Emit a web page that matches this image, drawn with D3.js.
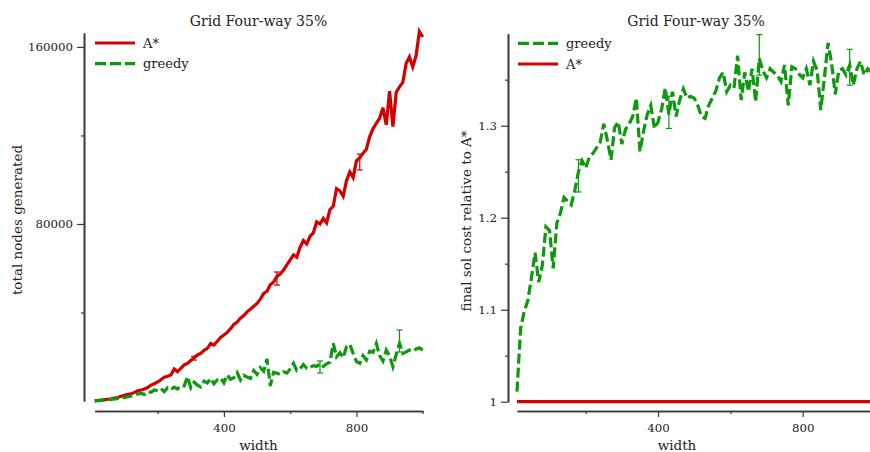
<!DOCTYPE html>
<html><head><meta charset="utf-8">
<script src="https://cdn.jsdelivr.net/npm/d3@7"></script>
<style>
html,body{margin:0;padding:0;background:#fff;}
text{font-family:"DejaVu Serif",serif;fill:#222;}
</style></head>
<body><svg id="c" width="870" height="452"></svg>
<script>
const widths = d3.range(10, 1001, 10);
const astarNodes = [200,300,450,600,800,1000,1300,1600,2100,2600,
3000,3300,3900,4600,5000,5400,6100,7200,7800,8600,
9600,10800,11200,11800,14500,13200,14800,16300,17000,18300,
19600,20800,21500,22900,23800,26000,25300,27000,28700,29800,
31000,32700,34600,35700,37400,38600,40300,41500,42800,44100,
46000,48600,49500,52500,53800,56300,57400,59200,61500,63800,
66000,65000,69500,72500,71000,74500,76000,81000,80000,82500,
80500,86500,88000,96000,95000,92500,99500,103500,101000,108500,
110000,112000,113800,119500,123000,125500,127800,132500,124800,140000,
124000,139500,142000,144000,152500,155500,151000,156000,167000,164500];
const greedyNodes = [100,200,300,400,550,700,900,1100,1300,1600,
1900,2200,2400,3200,3400,3000,4300,3900,5000,4600,
5600,4200,6000,5200,6300,5400,7000,6800,11000,6000,
8500,7200,6400,9000,8200,10200,7800,9600,10400,8200,
11800,9800,10500,12800,9500,11600,10800,10200,13800,12000,
15000,13500,19000,6800,13000,12500,12000,13200,12600,14500,
17000,13800,14600,16500,14800,15200,16000,15600,17000,15600,
16800,17500,26000,20000,21800,19500,24500,25600,21500,17800,
17000,20500,18500,22500,22000,26000,20500,18000,23000,20400,
15500,21000,26000,21500,22200,23000,22500,23500,24000,23000];
const greedyCost = [1.011,1.080,1.098,1.110,1.135,1.162,1.130,1.148,1.190,1.186,
1.145,1.194,1.205,1.222,1.218,1.214,1.230,1.250,1.262,1.254,
1.266,1.270,1.276,1.282,1.302,1.284,1.263,1.298,1.304,1.280,
1.296,1.302,1.310,1.330,1.272,1.294,1.312,1.322,1.297,1.304,
1.318,1.341,1.312,1.337,1.310,1.328,1.340,1.330,1.332,1.330,
1.322,1.310,1.308,1.322,1.330,1.338,1.352,1.358,1.337,1.344,
1.341,1.376,1.328,1.358,1.337,1.362,1.326,1.373,1.360,1.352,
1.362,1.358,1.355,1.348,1.366,1.322,1.364,1.362,1.356,1.352,
1.362,1.344,1.370,1.360,1.317,1.352,1.390,1.368,1.334,1.360,
1.362,1.355,1.366,1.344,1.362,1.370,1.355,1.362,1.358,1.360];
const astarCost = widths.map(() => 1.0);
// error bars: [width, low, high]
const astarNodesErr = [[310, 18500, 20200], [560, 52400, 58300], [810, 104400, 111600]];
const greedyNodesErr = [[690, 12650, 18080], [930, 22150, 32090]];
const greedyCostErr = [[180, 1.228, 1.263], [430, 1.297, 1.332], [680, 1.355, 1.399], [930, 1.344, 1.383]];
const title = "Grid Four-way 35%";
const leftTicksMajor = [80000, 160000], leftTicksMinor = [40000, 120000];
const rightTicksMajor = [1, 1.1, 1.2, 1.3], rightTicksMinor = [1.05, 1.15, 1.25, 1.35];
const xTicksMajor = [400, 800], xTicksMinor = [200, 600, 1000];

const RED = "#d40000", GREEN = "#0c9a0c", AX = "#3a3a3a";
const svg = d3.select("#c");

function panel(o) {
  const g = svg.append("g");
  const x = d3.scaleLinear().domain([10, 1000]).range(o.xr);
  const y = d3.scaleLinear().domain(o.yd).range(o.yr);
  const yMaj = d3.axisLeft(y).tickValues(o.yMaj).tickSize(7).tickSizeOuter(0).tickFormat(o.fmt);
  const yMin = d3.axisLeft(y).tickValues(o.yMin).tickSize(3).tickSizeOuter(0).tickFormat("");
  const ga = g.append("g").attr("transform", `translate(${o.yAxisX},0)`);
  ga.call(yMaj); ga.append("g").call(yMin);
  const xMaj = d3.axisBottom(x).tickValues(xTicksMajor).tickSize(6).tickSizeOuter(0).tickFormat(d3.format("d"));
  const xMin = d3.axisBottom(x).tickValues(xTicksMinor).tickSize(3).tickSizeOuter(0).tickFormat("");
  const gx = g.append("g").attr("transform", `translate(0,411)`);
  gx.call(xMaj); gx.append("g").call(xMin);
  g.selectAll(".domain").attr("stroke", AX).attr("stroke-width", 1.6);
  g.selectAll(".tick line").attr("stroke", AX).attr("stroke-width", 1.2);
  g.selectAll(".tick text").attr("font-family", "DejaVu Serif").attr("font-size", 11.8).attr("fill", "#222");
  ga.selectAll(".tick text").attr("x", -11).attr("dy", "0.34em");
  gx.selectAll(".tick text").attr("y", 13);
  const line = d3.line().x((d, i) => x(widths[i])).y(d => y(d));
  o.series.forEach(s => {
    g.append("path").datum(s.v).attr("d", line).attr("fill", "none")
      .attr("stroke", s.c).attr("stroke-width", 3.2)
      .attr("stroke-dasharray", s.dash || null);
    (s.err || []).forEach(([w, lo, hi]) => {
      const cx = x(w);
      const eg = g.append("g").attr("stroke", s.c).attr("stroke-width", 1.2);
      eg.append("line").attr("x1", cx).attr("x2", cx).attr("y1", y(lo)).attr("y2", y(hi));
      [lo, hi].forEach(t => eg.append("line").attr("x1", cx - 3).attr("x2", cx + 3).attr("y1", y(t)).attr("y2", y(t)));
    });
  });
  o.legend.forEach((s, k) => {
    const ly = o.legY + k * 20.7;
    g.append("line").attr("x1", o.legX).attr("x2", o.legX + 40).attr("y1", ly).attr("y2", ly)
      .attr("stroke", s.c).attr("stroke-width", 3.2).attr("stroke-dasharray", s.dash ? "11,4" : null);
    g.append("text").attr("x", o.legX + 48).attr("y", ly + 4.5).attr("font-size", 13).text(s.name);
  });
  g.append("text").attr("x", o.titleX).attr("y", 26).attr("text-anchor", "middle").attr("font-size", 14).text(title);
  g.append("text").attr("x", o.xLabX).attr("y", 450).attr("text-anchor", "middle").attr("font-size", 13.5).text("width");
  g.append("text").attr("transform", `translate(${o.yLab[0]},${o.yLab[1]}) rotate(-90)`)
    .attr("text-anchor", "middle").attr("font-size", 13.5).text(o.yLabel);
}

const sA = {name: "A*", c: RED};
const sG = {name: "greedy", c: GREEN, dash: "10,4"};

panel({
  xr: [94.7, 422.7], yd: [0, 166300], yr: [401, 33], yAxisX: 84,
  yMaj: leftTicksMajor, yMin: leftTicksMinor, fmt: d3.format("d"),
  series: [{...sA, v: astarNodes, err: astarNodesErr}, {...sG, v: greedyNodes, err: greedyNodesErr}],
  legend: [sA, sG], legX: 95, legY: 43, titleX: 258.5, xLabX: 258.5,
  yLab: [22, 220], yLabel: "total nodes generated"
});
panel({
  xr: [517, 875], yd: [1, 1.4], yr: [401.7, 33.7], yAxisX: 508,
  yMaj: rightTicksMajor, yMin: rightTicksMinor, fmt: d => d3.format("")(d),
  series: [{...sG, v: greedyCost, err: greedyCostErr}, {...sA, v: astarCost}],
  legend: [sG, sA], legX: 518, legY: 43.3, titleX: 696, xLabX: 677,
  yLab: [471, 221], yLabel: "final sol cost relative to A*"
});
</script></body></html>
